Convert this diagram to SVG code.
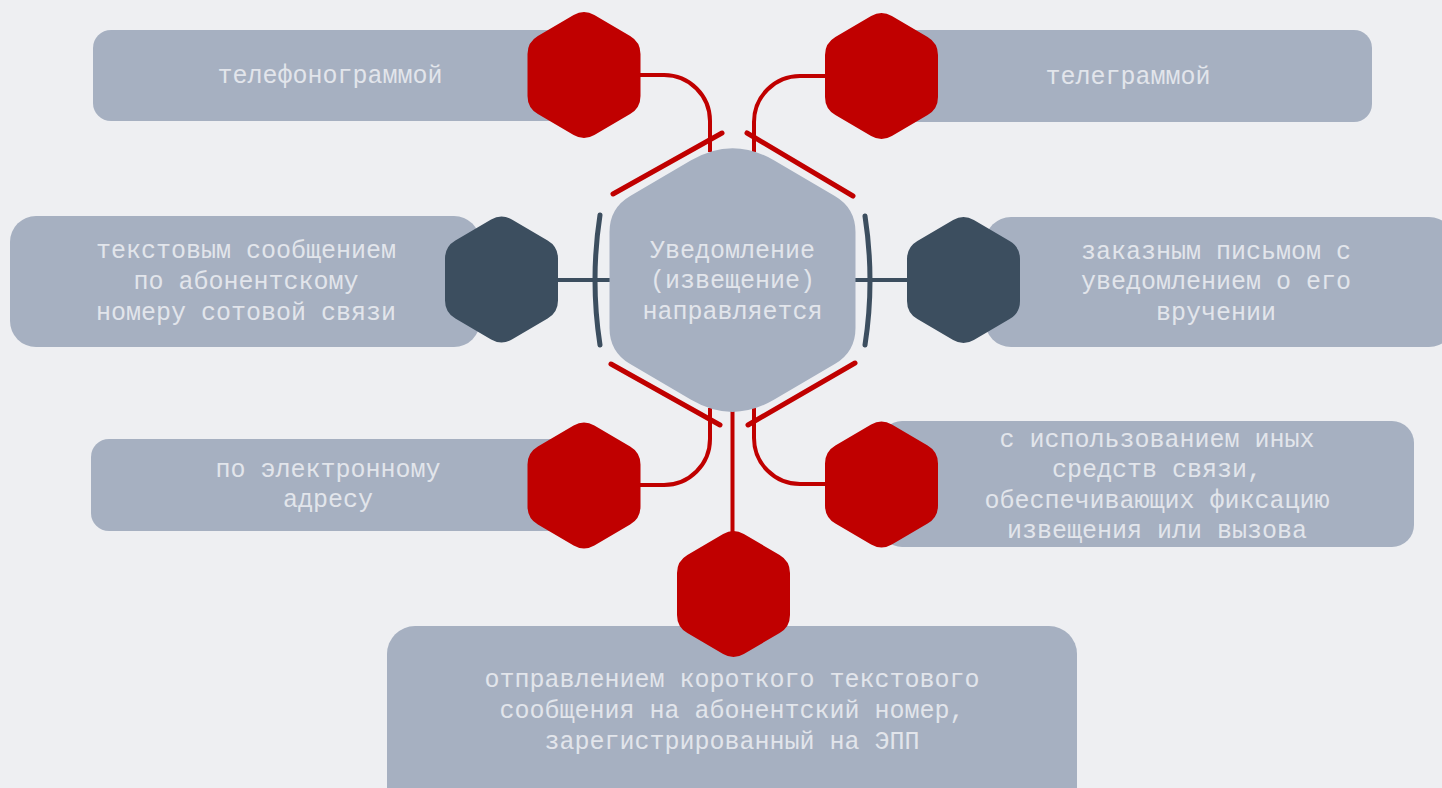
<svg xmlns="http://www.w3.org/2000/svg" xmlns:xlink="http://www.w3.org/1999/xlink" width="1442" height="788" viewBox="0 0 1442 788">
<defs>
<style>
.box{fill:#a6b0c1}
.t{font-family:"Liberation Mono","Courier New",monospace;font-size:25px;fill:#e2e5eb;text-anchor:middle}
.red{fill:#c00000}
.dark{fill:#3c4e5f}
.rl{fill:none;stroke:#c00000;stroke-width:4}
.rb{fill:none;stroke:#c00000;stroke-width:5;stroke-linecap:round}
.dl{fill:none;stroke:#3c4e5f;stroke-width:4}
.db{fill:none;stroke:#3c4e5f;stroke-width:5;stroke-linecap:round}
</style>
<path id="hex" d="M10.37,-59.94 L46.13,-39.06 Q56.5,-33 56.5,-21 L56.5,21 Q56.5,33 46.13,39.06 L10.37,59.94 Q0,66 -10.37,59.94 L-46.13,39.06 Q-56.5,33 -56.5,21 L-56.5,-21 Q-56.5,-33 -46.13,-39.06 L-10.37,-59.94 Q0,-66 10.37,-59.94 Z"/>
</defs>
<rect width="1442" height="788" fill="#eeeff2"/>

<g id="box-telephonogram">
<rect class="box" x="93" y="30" width="480" height="91" rx="18"/>
<text class="t" x="330" y="83">телефонограммой</text>
</g>
<g id="box-telegram">
<rect class="box" x="880" y="30" width="492" height="92" rx="18"/>
<text class="t" x="1128" y="84">телеграммой</text>
</g>
<g id="box-sms">
<rect class="box" x="10" y="216" width="470" height="131" rx="26"/>
<text class="t" x="246" y="258">текстовым сообщением</text>
<text class="t" x="246" y="289">по абонентскому</text>
<text class="t" x="246" y="320">номеру сотовой связи</text>
</g>
<g id="box-letter">
<rect class="box" x="985" y="217" width="470" height="130" rx="26"/>
<text class="t" x="1216" y="259">заказным письмом с</text>
<text class="t" x="1216" y="289">уведомлением о его</text>
<text class="t" x="1216" y="320">вручении</text>
</g>
<g id="box-email">
<rect class="box" x="91" y="439" width="480" height="92" rx="18"/>
<text class="t" x="328" y="477">по электронному</text>
<text class="t" x="328" y="507">адресу</text>
</g>
<g id="box-other">
<rect class="box" x="880" y="421" width="534" height="126" rx="22"/>
<text class="t" x="1157" y="447">с использованием иных</text>
<text class="t" x="1157" y="477">средств связи,</text>
<text class="t" x="1157" y="508">обеспечивающих фиксацию</text>
<text class="t" x="1157" y="538">извещения или вызова</text>
</g>
<g id="box-short-message">
<rect class="box" x="387" y="626" width="690" height="190" rx="28"/>
<text class="t" x="732" y="687">отправлением короткого текстового</text>
<text class="t" x="732" y="718">сообщения на абонентский номер,</text>
<text class="t" x="732" y="749">зарегистрированный на ЭПП</text>
</g>

<g id="connectors">
<path class="rl" d="M640,75 H664 A46,46 0 0 1 710,121 V152"/>
<path class="rl" d="M825,76 H800 A46,46 0 0 0 754,122 V152"/>
<path class="rl" d="M640,485 H664 A46,46 0 0 0 710,439 V408"/>
<path class="rl" d="M825,484 H800 A46,46 0 0 1 754,438 V408"/>
<path class="rl" d="M732.5,408 V533"/>
<path class="rb" d="M613,194 L722,133"/>
<path class="rb" d="M747,133 L853,196"/>
<path class="rb" d="M611,364 L720,425"/>
<path class="rb" d="M855,363 L748,425"/>
<path class="dl" d="M558,280 H612"/>
<path class="dl" d="M853,280 H908"/>
<path class="db" d="M600,215 Q590,280 600,345"/>
<path class="db" d="M865,216 Q875,281 865,345"/>
</g>

<g id="hex-telephonogram"><use href="#hex" class="red" x="584" y="75"/></g>
<g id="hex-telegram"><use href="#hex" class="red" x="881.5" y="76"/></g>
<g id="hex-sms"><use href="#hex" class="dark" x="501.5" y="279.5"/></g>
<g id="hex-letter"><use href="#hex" class="dark" x="963.5" y="280"/></g>
<g id="hex-email"><use href="#hex" class="red" x="584" y="485.5"/></g>
<g id="hex-other"><use href="#hex" class="red" x="881.5" y="484.5"/></g>
<g id="hex-short-message"><use href="#hex" class="red" x="733.5" y="594"/></g>

<g id="center">
<path class="box" transform="translate(732.5,280)" d="M41.4,-119.75 L102.3,-84.1 Q123,-72 123,-48 L123,48 Q123,72 102.3,84.1 L41.4,119.75 Q0,144 -41.4,119.75 L-102.3,84.1 Q-123,72 -123,48 L-123,-48 Q-123,-72 -102.3,-84.1 L-41.4,-119.75 Q0,-144 41.4,-119.75 Z"/>
<text class="t" x="732.5" y="258">Уведомление</text>
<text class="t" x="732.5" y="288">(извещение)</text>
<text class="t" x="732.5" y="319">направляется</text>
</g>
</svg>
